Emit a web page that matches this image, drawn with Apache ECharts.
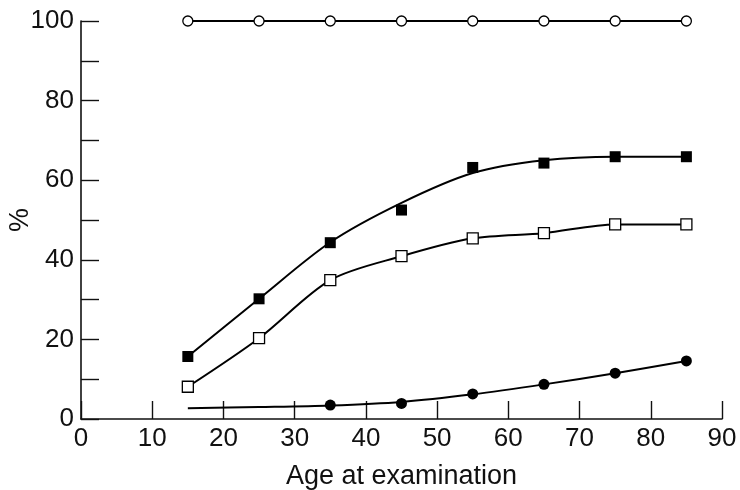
<!DOCTYPE html>
<html>
<head>
<meta charset="utf-8">
<script src="https://cdn.jsdelivr.net/npm/echarts@6/dist/echarts.min.js"></script>
<style>
  html, body { margin: 0; padding: 0; background: #fff; }
  #chart { width: 740px; height: 490px; }
</style>
</head>
<body>
<div id="chart"></div>
<script>
// ages at examination
const ages = [15, 25, 35, 45, 55, 65, 75, 85]

// open circles (flat at 100%)
const openCircle = [100, 100, 100, 100, 100, 100, 100, 100]

// filled squares: markers and fitted curve
const filledSquare = [15.7, 30.2, 44.3, 52.5, 63.2, 64.3, 65.9, 65.9]
const filledSquareCurve = [15.7, 30.2, 44.4, 54.3, 61.8, 65.0, 65.9, 65.9]

// open squares
const openSquare = [8.1, 20.3, 34.9, 40.9, 45.4, 46.7, 48.9, 48.9]

// filled circles: markers start at 35, curve from 15
const filledCircleAges = [35, 45, 55, 65, 75, 85]
const filledCircle = [3.5, 3.9, 6.3, 8.7, 11.5, 14.6]
const filledCircleCurve = [2.7, 3.0, 3.4, 4.3, 6.2, 8.7, 11.5, 14.6]

const pair = (xs, ys) => xs.map((x, i) => [x, ys[i]])

const chart = echarts.init(document.getElementById('chart'))

const font = 'Liberation Sans, Arial, Helvetica, sans-serif'
const axisLine = { show: true, lineStyle: { color: '#111', width: 1.6 } }
const axisTick = { show: true, inside: true, length: 18, lineStyle: { color: '#111', width: 1.4 } }
const line = { color: '#000', width: 2 }

chart.setOption({
  animation: false,
  grid: { left: 81, right: 18, top: 21, bottom: 71, outerBoundsMode: 'none', containLabel: false },
  xAxis: {
    type: 'value',
    min: 0,
    max: 90,
    interval: 10,
    name: 'Age at examination',
    nameLocation: 'middle',
    nameGap: 44,
    nameMoveOverlap: false,
    nameTextStyle: { fontFamily: font, fontSize: 27, color: '#111' },
    axisLine: axisLine,
    axisTick: axisTick,
    splitLine: { show: false },
    axisLabel: { margin: 7, fontFamily: font, fontSize: 26, color: '#111' },
  },
  yAxis: {
    type: 'value',
    min: 0,
    max: 100,
    interval: 10,
    name: '%',
    nameLocation: 'middle',
    nameGap: 47,
    nameMoveOverlap: false,
    nameTextStyle: { fontFamily: font, fontSize: 27, color: '#111' },
    axisLine: axisLine,
    axisTick: axisTick,
    splitLine: { show: false },
    axisLabel: {
      margin: 7,
      fontFamily: font,
      fontSize: 26,
      color: '#111',
      formatter: (v) => (v % 20 === 0 ? v : ''),
    },
  },
  series: [
    {
      type: 'line',
      data: pair(ages, openCircle),
      symbol: 'circle',
      symbolSize: 10,
      itemStyle: { color: '#fff', borderColor: '#000', borderWidth: 1.3 },
      lineStyle: line,
      z: 3,
    },
    {
      type: 'line',
      data: pair(ages, filledSquareCurve),
      smooth: 0.3,
      showSymbol: false,
      lineStyle: line,
    },
    {
      type: 'scatter',
      data: pair(ages, filledSquare),
      symbol: 'rect',
      symbolSize: 11,
      itemStyle: { color: '#000', opacity: 1 },
      z: 4,
    },
    {
      type: 'line',
      data: pair(ages, openSquare),
      smooth: 0.3,
      symbol: 'rect',
      symbolSize: 11,
      itemStyle: { color: '#fff', borderColor: '#000', borderWidth: 1.3 },
      lineStyle: line,
      z: 3,
    },
    {
      type: 'line',
      data: pair(ages, filledCircleCurve),
      smooth: 0.3,
      showSymbol: false,
      lineStyle: line,
    },
    {
      type: 'scatter',
      data: pair(filledCircleAges, filledCircle),
      symbol: 'circle',
      symbolSize: 11,
      itemStyle: { color: '#000', opacity: 1 },
      z: 4,
    },
  ],
})
</script>
</body>
</html>
